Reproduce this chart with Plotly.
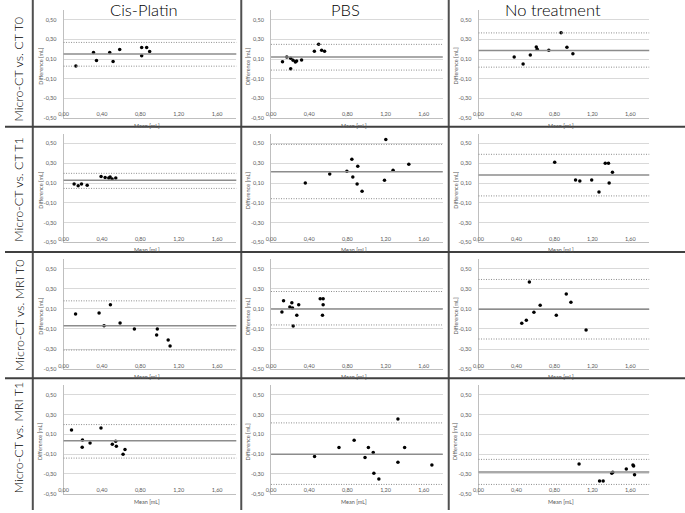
import plotly.graph_objects as go

# ---------------- data ----------------
col_titles = ["Cis-Platin", "PBS", "No treatment"]
row_titles = ["Micro-CT vs. CT T0", "Micro-CT vs. CT T1", "Micro-CT vs. MRI T0", "Micro-CT vs. MRI T1"]

x_ticks = [0.0, 0.4, 0.8, 1.2, 1.6]
x_ticktext = ["0,00", "0,40", "0,80", "1,20", "1,60"]
y_ticks = [-0.5, -0.3, -0.1, 0.1, 0.3, 0.5]
y_ticktext = ["-0,50", "-0,30", "-0,10", "0,10", "0,30", "0,50"]

# Row 1: Micro-CT vs. CT T0
ct0_cis_mean = [0.128, 0.312, 0.343, 0.481, 0.516, 0.585, 0.814, 0.814, 0.866, 0.897]
ct0_cis_diff = [0.029, 0.168, 0.086, 0.168, 0.076, 0.198, 0.219, 0.134, 0.219, 0.178]
ct0_cis_lines = [0.151, 0.270, 0.027]
ct0_pbs_mean = [0.120, 0.165, 0.206, 0.206, 0.231, 0.255, 0.268, 0.320, 0.454, 0.499, 0.530, 0.561]
ct0_pbs_diff = [0.073, 0.120, 0.107, 0.000, 0.087, 0.070, 0.080, 0.090, 0.180, 0.250, 0.190, 0.180]
ct0_pbs_lines = [0.120, 0.250, -0.013]
ct0_no_mean = [0.376, 0.470, 0.546, 0.609, 0.619, 0.741, 0.870, 0.932, 0.995]
ct0_no_diff = [0.120, 0.050, 0.140, 0.223, 0.200, 0.190, 0.370, 0.220, 0.153]
ct0_no_lines = [0.187, 0.367, 0.017]

# Row 2: Micro-CT vs. CT T1
ct1_cis_mean = [0.110, 0.152, 0.187, 0.246, 0.391, 0.433, 0.471, 0.485, 0.506, 0.544]
ct1_cis_diff = [0.090, 0.073, 0.090, 0.077, 0.167, 0.157, 0.150, 0.160, 0.140, 0.150]
ct1_cis_lines = [0.127, 0.198, 0.046]
ct1_pbs_mean = [0.359, 0.615, 0.795, 0.847, 0.857, 0.909, 0.902, 0.954, 1.203, 1.189, 1.279, 1.444]
ct1_pbs_diff = [0.100, 0.190, 0.220, 0.340, 0.160, 0.270, 0.090, 0.016, 0.540, 0.127, 0.228, 0.289]
ct1_pbs_lines = [0.215, 0.490, -0.058]
ct1_no_mean = [0.803, 1.023, 1.068, 1.193, 1.270, 1.336, 1.370, 1.412, 1.377]
ct1_no_diff = [0.310, 0.130, 0.120, 0.130, 0.010, 0.300, 0.300, 0.210, 0.100]
ct1_no_lines = [0.180, 0.390, -0.030]

# Row 3: Micro-CT vs. MRI T0
mr0_cis_mean = [0.125, 0.370, 0.488, 0.422, 0.589, 0.738, 0.977, 0.970, 1.090, 1.110]
mr0_cis_diff = [0.050, 0.060, 0.140, -0.067, -0.040, -0.100, -0.100, -0.160, -0.210, -0.270]
mr0_cis_lines = [-0.067, 0.180, -0.310]
mr0_pbs_mean = [0.114, 0.131, 0.197, 0.218, 0.225, 0.232, 0.270, 0.290, 0.515, 0.546, 0.546, 0.539]
mr0_pbs_diff = [0.070, 0.180, 0.120, 0.160, 0.110, -0.070, 0.037, 0.140, 0.200, 0.200, 0.140, 0.037]
mr0_pbs_lines = [0.100, 0.273, -0.060]
mr0_no_mean = [0.456, 0.504, 0.536, 0.584, 0.650, 0.820, 0.925, 0.974, 1.134]
mr0_no_diff = [-0.043, -0.013, 0.367, 0.067, 0.137, 0.037, 0.247, 0.167, -0.110]
mr0_no_lines = [0.097, 0.393, -0.200]

# Row 4: Micro-CT vs. MRI T1
mr1_cis_mean = [0.083, 0.197, 0.194, 0.276, 0.390, 0.508, 0.543, 0.550, 0.620, 0.640]
mr1_cis_diff = [0.144, 0.043, -0.030, 0.013, 0.164, 0.000, 0.030, -0.020, -0.100, -0.053]
mr1_cis_lines = [0.036, 0.200, -0.140]
mr1_pbs_mean = [0.456, 0.712, 0.871, 0.985, 1.020, 1.071, 1.078, 1.130, 1.330, 1.330, 1.400, 1.686]
mr1_pbs_diff = [-0.123, -0.033, 0.040, -0.133, -0.033, -0.083, -0.293, -0.353, 0.257, -0.183, -0.033, -0.210]
mr1_pbs_lines = [-0.100, 0.217, -0.407]
mr1_no_mean = [1.060, 1.276, 1.314, 1.405, 1.415, 1.558, 1.628, 1.635, 1.645]
mr1_no_diff = [-0.200, -0.373, -0.373, -0.293, -0.283, -0.250, -0.210, -0.220, -0.310]
mr1_no_lines = [-0.280, -0.153, -0.407]

panels = [
    [(ct0_cis_mean, ct0_cis_diff, ct0_cis_lines), (ct0_pbs_mean, ct0_pbs_diff, ct0_pbs_lines), (ct0_no_mean, ct0_no_diff, ct0_no_lines)],
    [(ct1_cis_mean, ct1_cis_diff, ct1_cis_lines), (ct1_pbs_mean, ct1_pbs_diff, ct1_pbs_lines), (ct1_no_mean, ct1_no_diff, ct1_no_lines)],
    [(mr0_cis_mean, mr0_cis_diff, mr0_cis_lines), (mr0_pbs_mean, mr0_pbs_diff, mr0_pbs_lines), (mr0_no_mean, mr0_no_diff, mr0_no_lines)],
    [(mr1_cis_mean, mr1_cis_diff, mr1_cis_lines), (mr1_pbs_mean, mr1_pbs_diff, mr1_pbs_lines), (mr1_no_mean, mr1_no_diff, mr1_no_lines)],
]

# ---------------- layout geometry (pixels) ----------------
W, H = 685, 513
col_px = [(59, 233), (268, 441), (477, 649)]
row_px = [(10.2, 118.4), (134.3, 243.9), (260.2, 371.3), (387.4, 496.5)]
title_x = [140, 343, 552]
row_label_y = [69, 190, 317, 440]

def px(x):
    return x / W

def py(y):
    return 1 - y / H

FONT = "Lato, Liberation Sans, sans-serif"
fig = go.Figure()
layout = dict(
    width=W, height=H, autosize=False,
    margin=dict(l=0, r=0, t=0, b=0),
    paper_bgcolor="white", plot_bgcolor="white",
    showlegend=False,
    font=dict(family=FONT, color="#595959"),
)
annotations = []
shapes = []

tick_font = dict(family=FONT, size=5.5, color="#595959")

for r in range(4):
    for c in range(3):
        k = r * 3 + c + 1
        xa = "xaxis" if k == 1 else f"xaxis{k}"
        ya = "yaxis" if k == 1 else f"yaxis{k}"
        xr = "x" if k == 1 else f"x{k}"
        yr = "y" if k == 1 else f"y{k}"
        x0, x1 = col_px[c]
        t0, t1 = row_px[r]
        layout[xa] = dict(
            domain=[px(x0), px(x1)], anchor=yr, range=[0, 1.8],
            tickvals=x_ticks, ticktext=x_ticktext, tickfont=tick_font,
            showgrid=False, zeroline=False, showline=True, linecolor="#bfbfbf", linewidth=1,
            ticks="", ticklen=0, ticklabelstandoff=-9, fixedrange=True,
        )
        layout[ya] = dict(
            domain=[py(t1), py(t0)], anchor=xr, range=[-0.5, 0.6],
            tickvals=y_ticks, ticktext=y_ticktext, tickfont=tick_font,
            showgrid=True, gridcolor="#d9d9d9", gridwidth=1,
            zeroline=False, showline=True, linecolor="#bfbfbf", linewidth=1,
            ticks="", ticklabelstandoff=5, fixedrange=True,
        )
        mx, dy, lines = panels[r][c]
        mean_v, up_v, lo_v = lines
        shapes.append(dict(type="line", xref=f"{xr} domain", yref=yr, x0=0, x1=1, y0=mean_v, y1=mean_v,
                           line=dict(color="#8c8c8c", width=1.5)))
        for v in (up_v, lo_v):
            shapes.append(dict(type="line", xref=f"{xr} domain", yref=yr, x0=0, x1=1, y0=v, y1=v,
                               line=dict(color="#8c8c8c", width=1, dash="1px,1.5px")))
        fig.add_trace(go.Scatter(x=mx, y=dy, mode="markers", xaxis=xr, yaxis=yr,
                                 marker=dict(color="black", size=3.5, symbol="circle"),
                                 hoverinfo="x+y"))
        # axis titles
        annotations.append(dict(text="Difference [mL]", xref="paper", yref="paper",
                                x=px(x0 - 23), y=py((t0 + t1) / 2 + 2), textangle=-90,
                                showarrow=False, font=dict(size=5.5, color="#595959"),
                                xanchor="center", yanchor="middle"))
        annotations.append(dict(text="Mean [mL]", xref="paper", yref="paper",
                                x=px((x0 + x1) / 2 - 3), y=py(t1 + 8), showarrow=False,
                                font=dict(size=5.5, color="#595959"),
                                xanchor="center", yanchor="middle"))

for c in range(3):
    annotations.append(dict(text=col_titles[c], xref="paper", yref="paper",
                            x=px(title_x[c]), y=py(10), showarrow=False,
                            font=dict(size=16.5, color="black", family=FONT, weight=300),
                            xanchor="center", yanchor="middle"))
for r in range(4):
    annotations.append(dict(text=row_titles[r], xref="paper", yref="paper",
                            x=px(14), y=py(row_label_y[r]), textangle=-90, showarrow=False,
                            font=dict(size=12.5, color="black", family=FONT, weight=300),
                            xanchor="center", yanchor="middle"))

# table separator lines
for xv in (28, 238, 447):
    shapes.append(dict(type="line", xref="paper", yref="paper", x0=px(xv), x1=px(xv), y0=0, y1=1,
                       line=dict(color="#505050", width=2)))
for yv in (127.5, 253.5, 380.5):
    shapes.append(dict(type="line", xref="paper", yref="paper", x0=0, x1=1, y0=py(yv), y1=py(yv),
                       line=dict(color="#404040", width=2)))

layout["annotations"] = annotations
layout["shapes"] = shapes
fig.update_layout(**layout)
fig.write_html("out.html", config={"displayModeBar": False},
               post_script="document.body.style.margin='0';document.body.style.overflow='hidden';")
